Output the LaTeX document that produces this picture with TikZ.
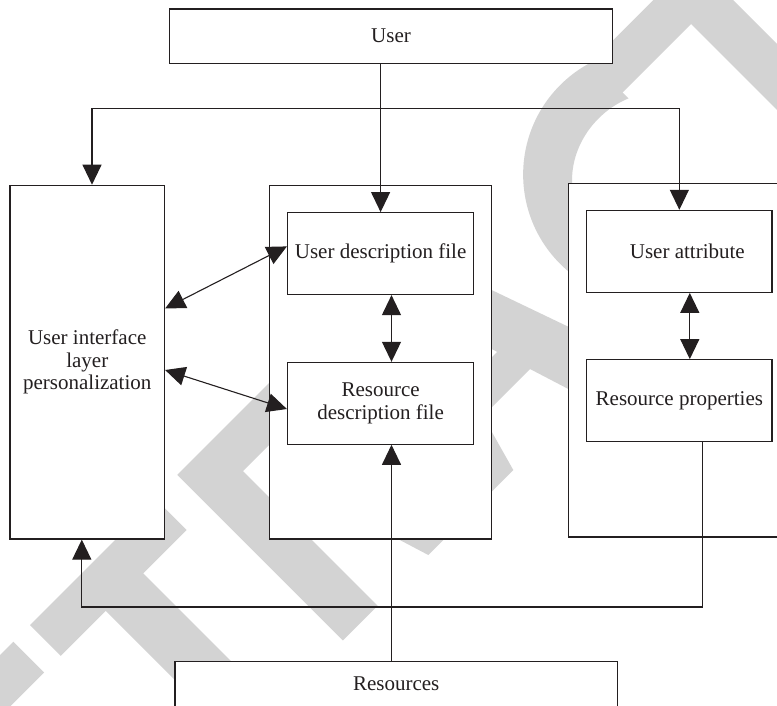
\documentclass[tikz,border=0pt]{standalone}
\usepackage{fontspec}
\setmainfont{Liberation Serif}
\usetikzlibrary{arrows.meta}
\definecolor{ink}{HTML}{231F20}
\definecolor{wmgray}{HTML}{D3D3D3}
\begin{document}
\begin{tikzpicture}[x=1pt,y=-1pt,
  box/.style={draw=ink, line width=1.2pt, fill=white, inner sep=0pt, text=ink,
              font=\fontsize{21}{22.5}\selectfont, align=center},
  link/.style={draw=ink, line width=1.1pt},
  tip/.style={-{Triangle[length=20pt,width=19pt]}},
  both/.style={{Triangle[length=20pt,width=19pt]}-{Triangle[length=20pt,width=19pt]}},
  wm/.style={fill=wmgray}]
\useasboundingbox (0,0) rectangle (777,705);
\clip (0,0) rectangle (777,705);

% ---- diagonal background lettering (text frame: U along the baseline, V downwards)
\begin{scope}[rotate=45, scale=0.70711]
  % E (end of top bar)
  \fill[wm] (-900,655) -- (-628.4,655) -- (-628.4,716.7) -- (-900,716.7) -- cycle;
  % T
  \fill[wm] (-595,655) -- (-343.3,655) -- (-343.3,716.7) -- (-595,716.7) -- cycle;
  \fill[wm] (-505,716) -- (-430,716) -- (-430,1100) -- (-505,1100) -- cycle;
  % R stem and top
  \fill[wm] (-297.5,652) -- (-100,652) -- (-100,714) -- (-228,714)
            -- (-228,983.3) -- (-297.5,983.3) -- cycle;
  % R leg and A
  \fill[wm, even odd rule] (-168,850) -- (-126.7,983.3) -- (43.3,983.3) -- (66.8,899)
            -- (161,899) -- (187.5,983.3) -- (272.7,983.3) -- (157,655) -- (100,655)
            -- (-40,850) -- cycle
            (111.3,740.6) -- (145.3,849) -- (80.8,849) -- cycle;
  % C
  \begin{scope}
    \clip (-200,500) -- (530,500) -- (530,1100) -- (-200,1100) -- cycle;
    \fill[wm, even odd rule] (475,824) circle (178.7) (480,822) ellipse (118 and 105);
  \end{scope}
  % T
  \fill[wm] (500,653.4) -- (1000,653.4) -- (1000,715) -- (500,715) -- cycle;
  \fill[wm] (667,714) -- (733,714) -- (733,1100) -- (667,1100) -- cycle;
\end{scope}

% ---- boxes
\node[box, minimum width=443pt, minimum height=54.4pt] (user) at (391,36.2) {User};
\node[box, minimum width=154.5pt, minimum height=353.7pt] (ui) at (87.25,362.15)
  {User interface\\layer\\personalization};
\node[box, minimum width=222pt, minimum height=353.7pt] (mid) at (380.5,362.15) {};
\node[box, minimum width=231.6pt, minimum height=353.4pt] (rbox) at (684.2,360.2) {};
\node[box, minimum width=186.2pt, minimum height=81.8pt] (ud) at (380.6,253.6)
  {User description file};
\node[box, minimum width=186.2pt, minimum height=81.8pt] (rd) at (380.6,403.3)
  {Resource\\description file};
\node[box, minimum width=185.3pt, minimum height=81.9pt] (ua) at (679.35,251.35)
  {\hspace*{16pt}User attribute};
\node[box, minimum width=185.3pt, minimum height=81.8pt] (rp) at (679.35,400.6)
  {Resource properties};
\node[box, minimum width=442.5pt, minimum height=45.6pt] (res) at (396.25,684.2)
  {Resources};

% ---- connectors
\coordinate (jn) at (381,108.4);
\coordinate (loopy) at (0,607);
\coordinate (uitop) at ([xshift=4.75pt]ui.north);
\coordinate (udin) at ([xshift=10.9pt]ud.south);
\coordinate (rdtop) at ([xshift=10.9pt]rd.north);
\coordinate (rdin) at ([xshift=10.9pt]rd.south);
\coordinate (uaout) at ([xshift=10.45pt]ua.south);
\coordinate (rptop) at ([xshift=10.45pt]rp.north);
\coordinate (rpout) at ([xshift=23.35pt]rp.south);
\coordinate (uiin) at ([xshift=-5.45pt]ui.south);
\coordinate (uia) at ([yshift=53.65pt]ui.east);
\coordinate (udw) at ([yshift=7.2pt]ud.west);
\coordinate (uib) at ([yshift=-7.85pt]ui.east);
\coordinate (rdw) at ([yshift=-5.7pt]rd.west);

\draw[link, tip] (ud.north |- user.south) -- (ud.north);
\draw[link, tip] (jn) -| (uitop);
\draw[link, tip] (jn) -| (ua.north);
\draw[link, both] (udin) -- (rdtop);
\draw[link, both] (uaout) -- (rptop);
\draw[link, both] (uia) -- (udw);
\draw[link, both] (uib) -- (rdw);
\draw[link, tip] (rdin |- res.north) -- (rdin);
\draw[link, tip] (rpout) -- (rpout |- loopy) -| (uiin);
\end{tikzpicture}
\end{document}
